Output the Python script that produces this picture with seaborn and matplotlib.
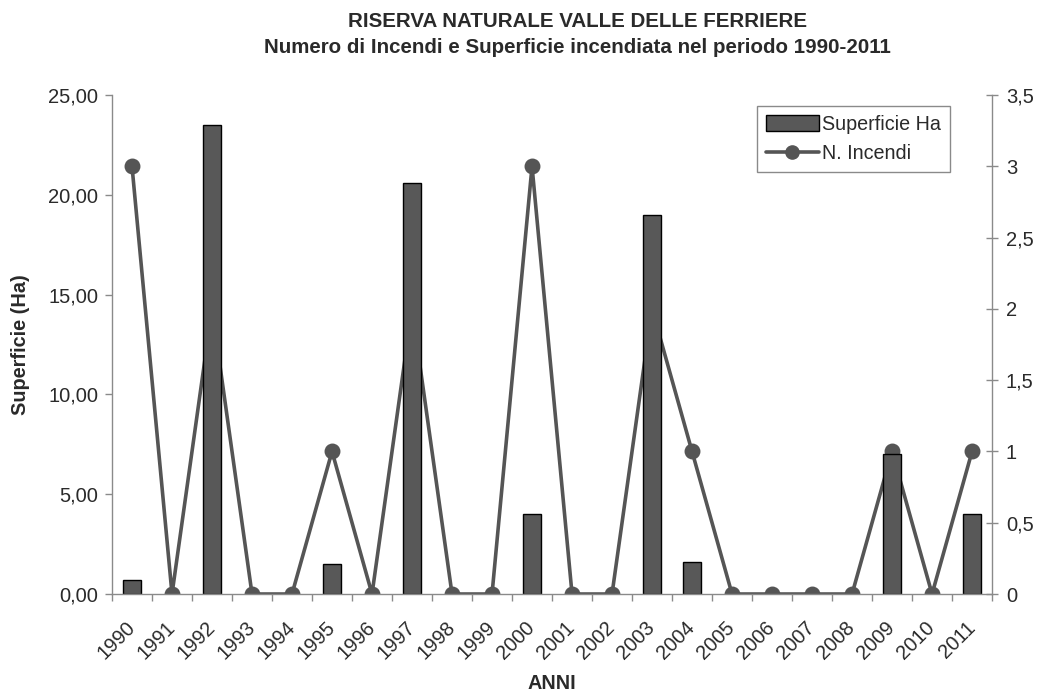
import matplotlib
matplotlib.use('Agg')
import matplotlib.pyplot as plt
import matplotlib.transforms as mtransforms
import seaborn as sns
import pandas as pd
import numpy as np
from matplotlib.ticker import FuncFormatter, FixedLocator, MultipleLocator
from matplotlib.patches import Patch
from matplotlib.lines import Line2D

anni = [str(a) for a in range(1990, 2012)]
superficie = [0.7, 0, 23.5, 0, 0, 1.5, 0, 20.6, 0, 0, 4.0,
              0, 0, 19.0, 1.6, 0, 0, 0, 0, 7.0, 0, 4.0]
incendi = [3, 0, 2, 0, 0, 1, 0, 2, 0, 0, 3,
           0, 0, 2, 1, 0, 0, 0, 0, 1, 0, 1]

df = pd.DataFrame({'anno': anni, 'superficie': superficie, 'incendi': incendi})

sns.set_theme(style='white')
plt.rcParams['font.family'] = ['Liberation Sans', 'DejaVu Sans']

bar_color = '#585858'
line_color = '#555555'
axis_color = '#8a8a8a'
text_color = '#2a2a2a'

fig = plt.figure(figsize=(10.4, 6.95), dpi=100)
ax = fig.add_axes([0.1077, 0.1453, 0.8462, 0.7180])
ax2 = ax.twinx()

# linea sotto le barre (come nell'originale)
sns.pointplot(data=df, x='anno', y='incendi', ax=ax2, color=line_color,
              errorbar=None, markers='o', markersize=9.5, linewidth=2.6)
sns.barplot(data=df, x='anno', y='superficie', ax=ax, color=bar_color,
            saturation=1, edgecolor='black', linewidth=1, width=0.45)
for p in ax.patches:
    if p.get_height() == 0:
        p.set_visible(False)

ax.set_zorder(ax2.get_zorder() + 1)
ax.patch.set_visible(False)

n = len(anni)
ax.set_xlim(-0.5, n - 0.5)
ax.set_ylim(0, 25)
ax2.set_ylim(0, 3.5)

ax.yaxis.set_major_locator(MultipleLocator(5))
ax.yaxis.set_major_formatter(FuncFormatter(lambda v, p: f'{v:.2f}'.replace('.', ',')))
ax2.yaxis.set_major_locator(MultipleLocator(0.5))
ax2.yaxis.set_major_formatter(FuncFormatter(lambda v, p: f'{v:g}'.replace('.', ',')))

ax.xaxis.set_major_locator(FixedLocator(np.arange(n)))
ax.set_xticklabels(anni, rotation=45, ha='right', va='center', rotation_mode='anchor')
shift = mtransforms.ScaledTranslation(-7 / 100, 0, fig.dpi_scale_trans)
for lab in ax.get_xticklabels():
    lab.set_transform(lab.get_transform() + shift)
ax.xaxis.set_minor_locator(FixedLocator(np.arange(n + 1) - 0.5))
ax.tick_params(axis='x', which='major', length=0, pad=22, labelsize=14.5, labelcolor=text_color)
ax.tick_params(axis='x', which='minor', length=5, width=1, color=axis_color, direction='out', bottom=True)
ax.tick_params(axis='y', length=5, width=1, color=axis_color, direction='out', left=True,
               pad=5, labelsize=14.5, labelcolor=text_color)
ax2.tick_params(axis='y', length=8, width=1, color=axis_color, direction='inout', right=True,
                pad=6, labelsize=14.5, labelcolor=text_color)

for a in (ax, ax2):
    a.spines['top'].set_visible(False)
    for s in ('left', 'right', 'bottom'):
        a.spines[s].set_color(axis_color)
        a.spines[s].set_linewidth(1)
ax.spines['right'].set_visible(False)
ax2.spines['left'].set_visible(False)
ax2.spines['bottom'].set_visible(False)
ax2.set_xlabel('')
ax2.set_ylabel('')

ax.set_xlabel('ANNI', fontsize=14.3, fontweight='bold', color=text_color, labelpad=8)
ax.set_ylabel('Superficie (Ha)', fontsize=14.3, fontweight='bold', color=text_color, labelpad=13)

fig.text(0.555, 0.969, 'RISERVA NATURALE VALLE DELLE FERRIERE', ha='center', va='center',
         fontsize=14.8, fontweight='bold', color=text_color)
fig.text(0.555, 0.931, 'Numero di Incendi e Superficie incendiata nel periodo 1990-2011',
         ha='center', va='center', fontsize=14.8, fontweight='bold', color=text_color)

handles = [Patch(facecolor=bar_color, edgecolor='black', linewidth=1),
           Line2D([0], [0], color=line_color, linewidth=2.6, marker='o', markersize=9.5)]
leg = ax.legend(handles, ['Superficie Ha', 'N. Incendi'], loc='upper right',
                bbox_to_anchor=(0.952, 0.978), borderaxespad=0, fontsize=14.2, frameon=True,
                fancybox=False, edgecolor=axis_color, framealpha=1, handlelength=2.7,
                handletextpad=0.15, borderpad=0.45, labelspacing=0.5, handleheight=0.8)
leg.get_frame().set_linewidth(1)
for t in leg.get_texts():
    t.set_color(text_color)

fig.savefig('out.png', dpi=100, facecolor='white')
